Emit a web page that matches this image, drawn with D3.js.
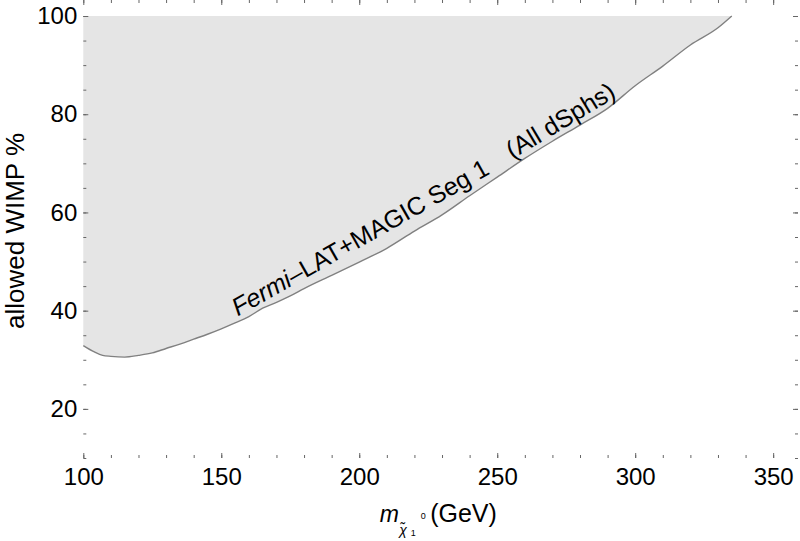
<!DOCTYPE html>
<html>
<head>
<meta charset="utf-8">
<script src="https://cdn.jsdelivr.net/npm/d3@7"></script>
<style>
body { margin: 0; background: #fff; }
text { font-family: "Liberation Sans", Arial, Helvetica, sans-serif; fill: #000; }
</style>
</head>
<body>
<script>
var width = 800,
    height = 541,
    margin = {top: 16, right: 2, bottom: 83, left: 83.3};

// boundary of the allowed region
var massGeV = [100, 104, 107, 110, 115, 120, 125, 130, 135, 140, 145, 150, 155, 160, 165, 170,
               175, 180, 190, 200, 210, 220, 230, 240, 250, 260, 270, 280, 290, 300, 310, 320, 330, 335];
var allowedPct = [32.9, 31.6, 30.9, 30.7, 30.55, 30.9, 31.4, 32.3, 33.2, 34.2, 35.2, 36.3, 37.5, 38.8, 40.5, 41.7,
                  43.0, 44.5, 47.2, 49.9, 52.7, 56.2, 59.5, 63.4, 67.2, 71.0, 74.5, 77.8, 81.2, 85.8, 89.8, 94.1, 97.6, 100];

var xTicks = [100, 150, 200, 250, 300, 350],
    yTicks = [20, 40, 60, 80, 100];

var curveLabel = "Fermi\u2013LAT+MAGIC Seg 1",
    curveLabel2 = "(All dSphs)";

var x = d3.scaleLinear()
    .domain([100, 359])
    .range([margin.left, width - margin.right]);

var y = d3.scaleLinear()
    .domain([10, 100])
    .range([height - margin.bottom, margin.top]);

var svg = d3.select("body").append("svg")
    .attr("width", width)
    .attr("height", height);

var pts = massGeV.map(function(m, i) { return [m, allowedPct[i]]; });

var area = d3.area()
    .x(function(d) { return x(d[0]); })
    .y0(y(100))
    .y1(function(d) { return y(d[1]); })
    .curve(d3.curveMonotoneX);

var line = d3.line()
    .x(function(d) { return x(d[0]); })
    .y(function(d) { return y(d[1]); })
    .curve(d3.curveMonotoneX);

svg.append("path")
    .datum(pts)
    .attr("d", area)
    .attr("fill", "#e5e5e5");

svg.append("path")
    .datum(pts)
    .attr("d", line)
    .attr("fill", "none")
    .attr("stroke", "#808080")
    .attr("stroke-width", 1.4);

// frame + ticks
var tickColor = "#666";

function drawAxis(axis, tx, ty) {
    var g = svg.append("g")
        .attr("transform", "translate(" + tx + "," + ty + ")")
        .call(axis);
    g.select(".domain").remove();
    g.selectAll(".tick line").attr("stroke", tickColor);
    g.selectAll(".tick text").attr("font-size", 24).attr("font-family", "Liberation Sans, Arial, sans-serif").attr("fill", "#000");
    return g;
}

var xMinor = d3.range(100, 360, 10),
    yMinor = d3.range(10, 101, 5);

var bottom = y.range()[0], top = y.range()[1],
    left = x.range()[0], right = x.range()[1];

drawAxis(d3.axisBottom(x).tickValues(xMinor).tickFormat("").tickSize(-3), 0, bottom);
drawAxis(d3.axisBottom(x).tickValues(xTicks).tickSize(-5).tickPadding(10).tickFormat(d3.format("d")), 0, bottom);
drawAxis(d3.axisTop(x).tickValues(xMinor).tickFormat("").tickSize(-3), 0, top);
drawAxis(d3.axisTop(x).tickValues(xTicks).tickFormat("").tickSize(-5), 0, top);

drawAxis(d3.axisLeft(y).tickValues(yMinor).tickFormat("").tickSize(-3), left, 0);
drawAxis(d3.axisLeft(y).tickValues(yTicks).tickSize(-5).tickPadding(6).tickFormat(d3.format("d")), left, 0);
drawAxis(d3.axisRight(y).tickValues(yMinor).tickFormat("").tickSize(-3), right, 0);
drawAxis(d3.axisRight(y).tickValues(yTicks).tickFormat("").tickSize(-5), right, 0);

svg.append("rect")
    .attr("x", left)
    .attr("y", top)
    .attr("width", right - left)
    .attr("height", bottom - top)
    .attr("fill", "none")
    .attr("stroke", tickColor)
    .attr("stroke-width", 1.2);

// label along the curve
var lab = svg.append("text")
    .attr("font-size", 25)
    .attr("transform", "translate(" + x(156) + "," + y(38.8) + ")rotate(-29.5)");
lab.append("tspan").attr("font-style", "italic").text("Fermi");
lab.append("tspan").text(curveLabel.slice(5));

svg.append("text")
    .attr("font-size", 25)
    .attr("transform", "translate(" + x(255.5) + "," + y(70.8) + ")rotate(-31)")
    .text(curveLabel2);

// axis titles
var cx = (left + right) / 2;
var xt = svg.append("text").attr("x", cx - 61).attr("y", 522);
xt.append("tspan").attr("font-size", 23).attr("font-style", "italic").text("m");
xt.append("tspan").attr("x", cx - 41.5).attr("y", 535).attr("font-size", 14).attr("font-style", "italic").text("\u03c7\u0303");
xt.append("tspan").attr("x", cx - 30).attr("y", 536).attr("font-size", 9).text("1");
xt.append("tspan").attr("x", cx - 20).attr("y", 519).attr("font-size", 9).text("0");
xt.append("tspan").attr("x", cx - 10.5).attr("y", 522).attr("font-size", 25).text("(GeV)");

svg.append("text")
    .attr("transform", "translate(24," + 231 + ")rotate(-90)")
    .attr("text-anchor", "middle")
    .attr("font-size", 26)
    .text("allowed WIMP %");
</script>
</body>
</html>
